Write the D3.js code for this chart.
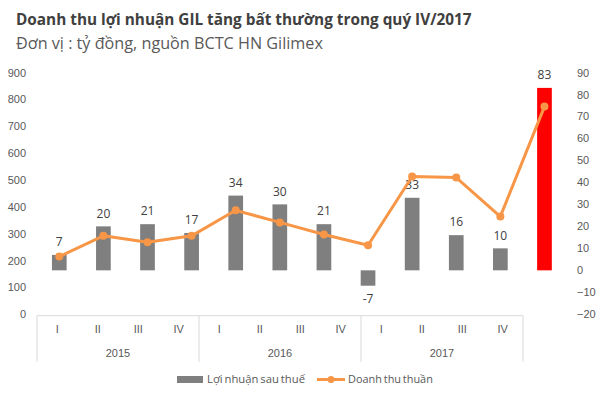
<!DOCTYPE html>
<html>
<head>
<meta charset="utf-8">
<script src="https://cdn.jsdelivr.net/npm/d3@7/dist/d3.min.js"></script>
<style>
  html, body { margin: 0; padding: 0; background: #fff; }
  svg { display: block; }
  text { font-family: "Open Sans", "Noto Sans", sans-serif; }
</style>
</head>
<body>
<svg id="chart" width="603" height="399"></svg>
<script>
// ---- data ----
const years = ["2015", "2016", "2017"];
const quarters = ["I", "II", "III", "IV"];
const categories = ["2015-I","2015-II","2015-III","2015-IV","2016-I","2016-II","2016-III","2016-IV","2017-I","2017-II","2017-III","2017-IV"];
const profit = [7, 20, 21, 17, 34, 30, 21, -7, 33, 16, 10, 83];          // Lợi nhuận sau thuế (right axis)
const revenue = [215, 292, 268, 292, 387, 342, 297, 257, 513, 509, 364, 773]; // Doanh thu thuần (left axis)
const leftTicks = [0, 100, 200, 300, 400, 500, 600, 700, 800, 900];
const rightTicks = [-20, -10, 0, 10, 20, 30, 40, 50, 60, 70, 80, 90];
const title = "Doanh thu lợi nhuận GIL tăng bất thường trong quý IV/2017";
const subtitle = "Đơn vị : tỷ đồng, nguồn BCTC HN Gilimex";
const legendLabels = ["Lợi nhuận sau thuế", "Doanh thu thuần"];

// ---- layout ----
const svg = d3.select("#chart");
const plotTop = 72.5, plotBottom = 314.3;
const txt = "#595959";

const yLeft = d3.scaleLinear().domain([0, 900]).range([plotBottom, plotTop]);
const yRight = d3.scaleLinear().domain([-20, 90]).range([plotBottom, plotTop]);
const xMarks = d3.scaleBand().domain(categories).range([37.25, 566.5]).paddingInner(0.667).paddingOuter(0.333);
const xAxisBand = d3.scaleBand().domain(categories).range([37, 523]).padding(0);

// ---- title ----
function fitText(sel, target) {
  const w = sel.node().getComputedTextLength();
  const fs = parseFloat(sel.attr("font-size"));
  sel.attr("font-size", fs * target / w);
}
const t1 = svg.append("text").attr("x", 16).attr("y", 25)
  .attr("font-size", 17).attr("font-weight", "bold").attr("fill", "#404040").text(title);
fitText(t1, 456);
const t2 = svg.append("text").attr("x", 16).attr("y", 49)
  .attr("font-size", 16).attr("fill", txt).text(subtitle);
fitText(t2, 307);

// ---- axes ----
const gl = svg.append("g").attr("transform", "translate(30,0)")
  .call(d3.axisLeft(yLeft).tickValues(leftTicks).tickSize(0).tickPadding(4));
const gr = svg.append("g").attr("transform", "translate(573,0)")
  .call(d3.axisRight(yRight).tickValues(rightTicks).tickSize(0).tickPadding(4));
[gl, gr].forEach(g => {
  g.select(".domain").remove();
  g.selectAll("text").attr("fill", txt).attr("font-size", 11)
    .style("font-family", "'Liberation Sans', Arial, sans-serif");
});

// category axis box
const axTop = 315.7, axBottom = 361.7;
const boxColor = "#d9d9d9";
svg.append("line").attr("x1", 37).attr("x2", 523).attr("y1", axTop).attr("y2", axTop)
  .attr("stroke", boxColor).attr("stroke-width", 1);
const bounds = [0, 4, 8, 12].map(i => i < 12 ? xAxisBand(categories[i]) : xAxisBand(categories[11]) + xAxisBand.bandwidth());
svg.selectAll(".sep").data(bounds).enter().append("line")
  .attr("x1", d => d).attr("x2", d => d).attr("y1", axTop).attr("y2", axBottom)
  .attr("stroke", boxColor).attr("stroke-width", 1);

const gx = svg.append("g").attr("transform", `translate(0,${axTop})`)
  .call(d3.axisBottom(xAxisBand).tickSize(0).tickPadding(10).tickFormat(d => d.split("-")[1]));
gx.select(".domain").remove();
gx.selectAll("text").attr("fill", txt).attr("font-size", 11)
  .style("font-family", "'Liberation Sans', Arial, sans-serif");

svg.selectAll(".year").data(years).enter().append("text")
  .attr("x", (d, i) => (bounds[i] + bounds[i + 1]) / 2)
  .attr("y", 357)
  .attr("text-anchor", "middle").attr("fill", txt).attr("font-size", 11)
  .style("font-family", "'Liberation Sans', Arial, sans-serif")
  .text(d => d);

// ---- bars ----
const y0 = yRight(0);
svg.selectAll(".bar").data(profit).enter().append("rect")
  .attr("x", (d, i) => xMarks(categories[i]))
  .attr("width", xMarks.bandwidth())
  .attr("y", d => Math.min(yRight(d), y0))
  .attr("height", d => Math.abs(yRight(d) - y0))
  .attr("fill", (d, i) => i === profit.length - 1 ? "#ff0000" : "#7f7f7f");

svg.selectAll(".blabel").data(profit).enter().append("text")
  .attr("x", (d, i) => xMarks(categories[i]) + xMarks.bandwidth() / 2)
  .attr("y", d => d >= 0 ? yRight(d) - 13 : yRight(d) + 13)
  .attr("dy", "0.35em")
  .attr("text-anchor", "middle").attr("fill", "#404040").attr("font-size", 12)
  .text(d => d);

// ---- line ----
const orange = "#f79646";
const line = d3.line()
  .x((d, i) => xMarks(categories[i]) + xMarks.bandwidth() / 2)
  .y(d => yLeft(d));
svg.append("path").datum(revenue).attr("d", line)
  .attr("fill", "none").attr("stroke", orange).attr("stroke-width", 3).attr("stroke-linejoin", "round");
svg.selectAll(".pt").data(revenue).enter().append("circle")
  .attr("cx", (d, i) => xMarks(categories[i]) + xMarks.bandwidth() / 2)
  .attr("cy", d => yLeft(d))
  .attr("r", 4).attr("fill", orange);

// ---- legend ----
const ly = 379.5;
svg.append("rect").attr("x", 177).attr("y", 376).attr("width", 26).attr("height", 7).attr("fill", "#7f7f7f");
const lt1 = svg.append("text").attr("x", 207).attr("y", ly).attr("dy", "0.35em")
  .attr("font-size", 11).attr("fill", txt).attr("word-spacing", -1).text(legendLabels[0]);
fitText(lt1, 98);
svg.append("line").attr("x1", 317).attr("x2", 345).attr("y1", ly).attr("y2", ly)
  .attr("stroke", orange).attr("stroke-width", 3);
svg.append("circle").attr("cx", 331).attr("cy", ly).attr("r", 3.5).attr("fill", orange);
const lt2 = svg.append("text").attr("x", 348).attr("y", ly).attr("dy", "0.35em")
  .attr("font-size", 11).attr("fill", txt).attr("word-spacing", -1).text(legendLabels[1]);
fitText(lt2, 85);
</script>
</body>
</html>
